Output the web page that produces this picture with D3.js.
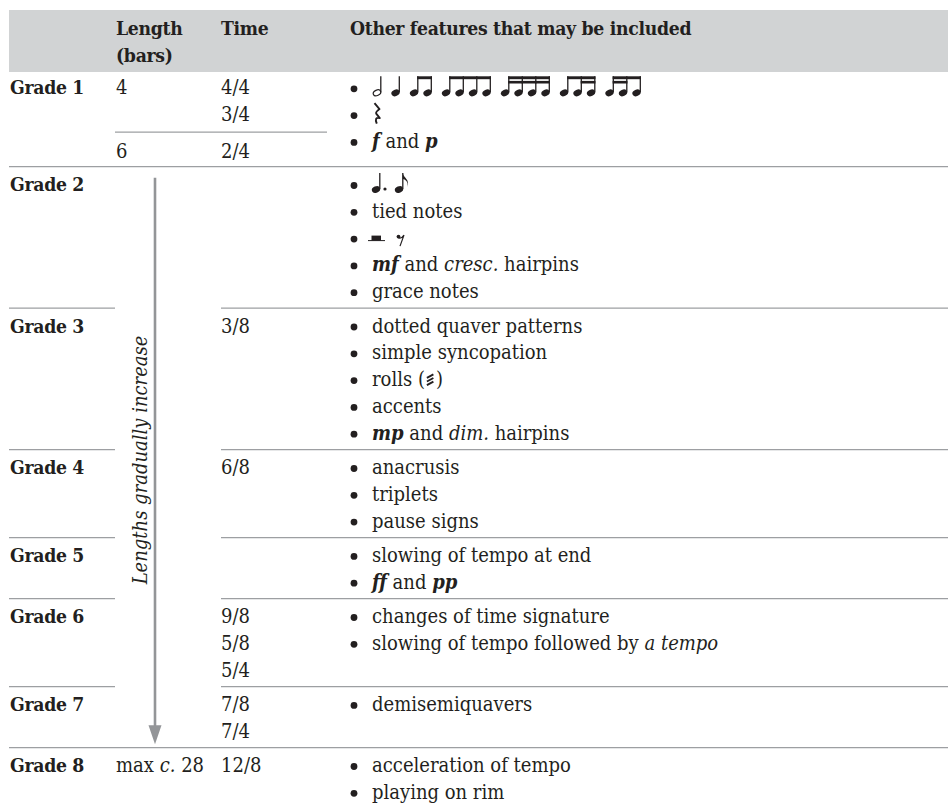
<!DOCTYPE html>
<html><head><meta charset="utf-8">
<script src="https://cdn.jsdelivr.net/npm/d3@7"></script>
<style>body{margin:0;background:#fff} svg{display:block}</style>
</head><body>
<svg id="c" width="948" height="806"></svg>
<script>
// ---------------- data ----------------
const headers = ["Length", "(bars)", "Time", "Other features that may be included"];
const grades = ["Grade 1","Grade 2","Grade 3","Grade 4","Grade 5","Grade 6","Grade 7","Grade 8"];
// lengths per grade, aligned to time-signature sub-groups
const lengths = [["4","6"], [], [], [], [], [], [], ["max _c._ 28"]];
// time signatures per grade, split into sub-groups separated by a rule
const timeSigs = [[["4/4","3/4"],["2/4"]], [[]], [["3/8"]], [["6/8"]], [[]], [["9/8","5/8","5/4"]], [["7/8","7/4"]], [["12/8"]]];
// features ( *x* = bold italic dynamic, _x_ = italic, {x} = notation glyph )
const features = [
  ["{notes}", "{crotchetRest}", "*f* and *p*"],
  ["{dotted}", "tied notes", "{rests}", "*mf* and _cresc._ hairpins", "grace notes"],
  ["dotted quaver patterns", "simple syncopation", "rolls ({roll})", "accents", "*mp* and _dim._ hairpins"],
  ["anacrusis", "triplets", "pause signs"],
  ["slowing of tempo at end", "*ff* and *pp*"],
  ["changes of time signature", "slowing of tempo followed by _a tempo_"],
  ["demisemiquavers"],
  ["acceleration of tempo", "playing on rim"]
];
const noteGroups = [[2],[4],[8,8],[8,8,8,8],[16,16,16,16],[8,16,16],[16,16,8]];
const arrowLabel = "Lengths gradually increase";
const arrowFromGrade = 1, arrowToGrade = 6;

// ---------------- style ----------------
const INK = "#231f20", RULE = "#9d9fa2", HEAD = "#d1d3d4", ARROW = "#939598";
const FONT = '"DejaVu Serif Condensed", "DejaVu Serif", serif';
const W = 948;
const colX = {grade: 10, length: 116, time: 221, bullet: 354, feat: 372, header3: 350};
const lineL = 9;

// auto-fit font size so a reference line matches the reference width
const cv = document.createElement("canvas").getContext("2d");
cv.font = `100px ${FONT}`;
const refW = cv.measureText("slowing of tempo followed by ").width;
cv.font = `italic 100px ${FONT}`;
const refW2 = cv.measureText("a tempo").width;
let FS = 100 * 351 / (refW + refW2);
FS = Math.max(15, Math.min(20, FS));
const BFS = FS * 0.96, BLS = -0.3;

const svg = d3.select("#c").style("font-family", FONT).style("font-size", FS + "px");
function bold(sel) { return sel.attr("font-weight", "bold").style("font-size", BFS + "px").attr("letter-spacing", BLS); }

// ---------------- vertical layout ----------------
const PITCH = 26.8, FIRST = 24.3, FIRST0 = 22.3, AFTER = 10, SUBRULE = 11, SUBFIRST = 25.4, SUBAFTER = 9.2;
const headerTop = 10, headerBot = 72;
const layout = [];
let yCur = headerBot;
grades.forEach((g, gi) => {
  const first = gi === 0 ? FIRST0 : FIRST;
  const nFeat = features[gi].length;
  const subs = timeSigs[gi];
  const timeLines = [];
  const subRules = [];
  let y = yCur + first;
  subs.forEach((s, si) => {
    if (si > 0 && timeLines.length) {
      const ry = timeLines[timeLines.length-1] + SUBRULE;
      subRules.push(ry);
      y = ry + SUBFIRST;
    }
    s.forEach(() => { timeLines.push(y); y += PITCH; });
  });
  const featLines = d3.range(nFeat).map(i => yCur + first + i * PITCH);
  const lastFeat = featLines[featLines.length-1];
  let bottom = lastFeat + AFTER;
  if (subRules.length) bottom = Math.max(bottom, timeLines[timeLines.length-1] + SUBAFTER);
  else if (timeLines.length) bottom = Math.max(bottom, timeLines[timeLines.length-1] + AFTER);
  layout.push({top: yCur, featLines, timeLines, subRules, bottom});
  yCur = bottom;
});

// ---------------- header ----------------
svg.append("rect").attr("x", lineL).attr("y", headerTop).attr("width", W - lineL).attr("height", headerBot - headerTop).attr("fill", HEAD);
const hdr = svg.append("g").attr("fill", INK);
bold(hdr.append("text")).attr("x", colX.length).attr("y", 35).text(headers[0]);
bold(hdr.append("text")).attr("x", colX.length).attr("y", 62).text(headers[1]);
bold(hdr.append("text")).attr("x", colX.time).attr("y", 35).text(headers[2]);
bold(hdr.append("text")).attr("x", colX.header3).attr("y", 35).text(headers[3]);

// ---------------- rich text helper ----------------
function parse(s) {
  return s.split(/(\*[^*]+\*|_[^_]+_|\{[A-Za-z]+\})/).filter(t => t.length).map(t => {
    if (t[0] === "*") return {t: t.slice(1,-1), k: "dyn"};
    if (t[0] === "_") return {t: t.slice(1,-1), k: "it"};
    if (t[0] === "{") return {t: t.slice(1,-1), k: "glyph"};
    return {t, k: "plain"};
  });
}
const glyphW = {roll: 11};
function richText(g, x, y, s) {
  const text = g.append("text").attr("x", x).attr("y", y).attr("fill", INK);
  let pendingDx = 0, usedDx = 0;
  parse(s).forEach(tok => {
    if (tok.k === "glyph") {
      const gx = x + text.node().getComputedTextLength() + usedDx + pendingDx;
      drawGlyph(g, tok.t, gx, y);
      pendingDx += glyphW[tok.t] || 0;
      return;
    }
    const ts = text.append("tspan").text(tok.t);
    if (pendingDx) { ts.attr("dx", pendingDx); usedDx += pendingDx; pendingDx = 0; }
    if (tok.k === "dyn") ts.attr("font-style", "italic").attr("font-weight", "bold");
    if (tok.k === "it") ts.attr("font-style", "italic");
  });
  return text;
}

// ---------------- notation glyphs ----------------
function head(g, x, y, hollow) {
  g.append("ellipse").attr("cx", x).attr("cy", y).attr("rx", hollow ? 3.9 : 4.3).attr("ry", hollow ? 2.7 : 3.2)
    .attr("transform", `rotate(-24 ${x} ${y})`)
    .attr("fill", hollow ? "none" : INK).attr("stroke", INK).attr("stroke-width", hollow ? 1.2 : 0);
}
function stem(g, x, y1, y2) {
  g.append("line").attr("x1", x).attr("x2", x).attr("y1", y1).attr("y2", y2).attr("stroke", INK).attr("stroke-width", 1.3);
}
function drawNotes(g, x0, b) {
  const hy = b - 1.5, st = b - 18, sp = 13.5, gap = 18.5, sx = 3.8;
  let cx = x0 + 5;
  noteGroups.forEach(grp => {
    const xs = grp.map((d, i) => cx + i * sp);
    xs.forEach((x, i) => { head(g, x, hy, grp[i] === 2); stem(g, x + sx, hy - 0.5, st); });
    if (grp.length > 1) {
      g.append("rect").attr("x", xs[0] + sx - 0.65).attr("y", st).attr("width", xs[xs.length-1] - xs[0] + 1.3).attr("height", 2.9).attr("fill", INK);
      for (let i = 0; i < grp.length - 1; i++) {
        if (grp[i] === 16 && grp[i+1] === 16)
          g.append("rect").attr("x", xs[i] + sx - 0.65).attr("y", st + 4.6).attr("width", sp + 1.3).attr("height", 2.6).attr("fill", INK);
      }
    }
    cx = xs[xs.length-1] + gap;
  });
}
function drawGlyph(g, name, x, b) {
  const gg = g.append("g");
  if (name === "notes") drawNotes(gg, x, b);
  if (name === "crotchetRest") {
    gg.append("path").attr("d", `M${x+2.5},${b-18} L${x+7.5},${b-12} Q${x+3.5},${b-9} ${x+4.2},${b-7.5} L${x+7.8},${b-3} Q${x+2},${b-4.5} ${x+4.8},${b+2.5}`)
      .attr("fill", "none").attr("stroke", INK).attr("stroke-width", 1.9).attr("stroke-linejoin", "round");
  }
  if (name === "dotted") {
    const hy = b - 1.5, st = b - 18;
    head(gg, x + 4, hy, false); stem(gg, x + 7.8, hy - 0.5, st);
    gg.append("circle").attr("cx", x + 13).attr("cy", b - 2).attr("r", 1.6).attr("fill", INK);
    head(gg, x + 27, hy, false); stem(gg, x + 30.8, hy - 0.5, st);
    gg.append("path").attr("d", `M${x+30.8},${st} C${x+31.5},${st+5} ${x+38},${st+6} ${x+35.5},${st+14} C${x+36.5},${st+8} ${x+33},${st+6.5} ${x+30.8},${st+6}Z`)
      .attr("fill", INK);
  }
  if (name === "rests") {
    gg.append("line").attr("x1", x - 4).attr("x2", x + 13).attr("y1", b - 4).attr("y2", b - 4).attr("stroke", INK).attr("stroke-width", 1);
    gg.append("rect").attr("x", x - 0.5).attr("y", b - 9).attr("width", 9.5).attr("height", 5).attr("fill", INK);
    gg.append("circle").attr("cx", x + 26.5).attr("cy", b - 8).attr("r", 1.9).attr("fill", INK);
    gg.append("path").attr("d", `M${x+26},${b-7} Q${x+29},${b-5} ${x+32},${b-9.5} L${x+28},${b+1.5}`)
      .attr("fill", "none").attr("stroke", INK).attr("stroke-width", 1.2);
  }
  if (name === "roll") {
    for (let i = 0; i < 3; i++) {
      const yy = b - 3 - i * 3.6;
      gg.append("line").attr("x1", x + 2).attr("x2", x + 8.5).attr("y1", yy + 2).attr("y2", yy - 1.5)
        .attr("stroke", INK).attr("stroke-width", 1.9);
    }
  }
}

// ---------------- body ----------------
const body = svg.append("g");
layout.forEach((L, gi) => {
  bold(body.append("text")).attr("x", colX.grade).attr("y", L.featLines[0]).attr("fill", INK).text(grades[gi]);
  let k = 0;
  timeSigs[gi].forEach((sub, si) => {
    sub.forEach((t, ti) => {
      const y = L.timeLines[k++];
      body.append("text").attr("x", colX.time).attr("y", y).attr("fill", INK).text(t);
      if (ti === 0 && lengths[gi][si]) richText(body, colX.length, y, lengths[gi][si]);
    });
    if (sub.length === 0 && lengths[gi][si]) richText(body, colX.length, L.featLines[0], lengths[gi][si]);
  });
  L.subRules.forEach(ry => body.append("line").attr("x1", colX.length - 1).attr("x2", 327).attr("y1", ry).attr("y2", ry).attr("stroke", RULE).attr("stroke-width", 1.2));
  features[gi].forEach((f, fi) => {
    const y = L.featLines[fi];
    body.append("circle").attr("cx", colX.bullet).attr("cy", y - 5.5).attr("r", 3.4).attr("fill", INK);
    richText(body, colX.feat, y, f);
  });
  if (gi < grades.length - 1) {
    const y = L.bottom;
    const full = (gi === 0 || gi === grades.length - 2);
    if (full) body.append("line").attr("x1", lineL).attr("x2", W).attr("y1", y).attr("y2", y).attr("stroke", RULE).attr("stroke-width", 1.3);
    else {
      body.append("line").attr("x1", lineL).attr("x2", 115).attr("y1", y).attr("y2", y).attr("stroke", RULE).attr("stroke-width", 1.3);
      body.append("line").attr("x1", 221).attr("x2", W).attr("y1", y).attr("y2", y).attr("stroke", RULE).attr("stroke-width", 1.3);
    }
  }
});

// ---------------- arrow ----------------
const ax = 155;
const ay1 = layout[arrowFromGrade].top + 11, ay2 = layout[arrowToGrade].bottom - 3.5;
svg.append("line").attr("x1", ax).attr("x2", ax).attr("y1", ay1).attr("y2", ay2 - 16).attr("stroke", ARROW).attr("stroke-width", 2.6);
svg.append("path").attr("d", `M${ax-6.5},${ay2-19} L${ax+6.5},${ay2-19} L${ax},${ay2} Z`).attr("fill", ARROW);
svg.append("text").attr("transform", `translate(147,${(ay1 + ay2) / 2 - 1}) rotate(-90)`)
  .attr("text-anchor", "middle").attr("font-style", "italic").attr("fill", INK).text(arrowLabel);
</script>
</body></html>
